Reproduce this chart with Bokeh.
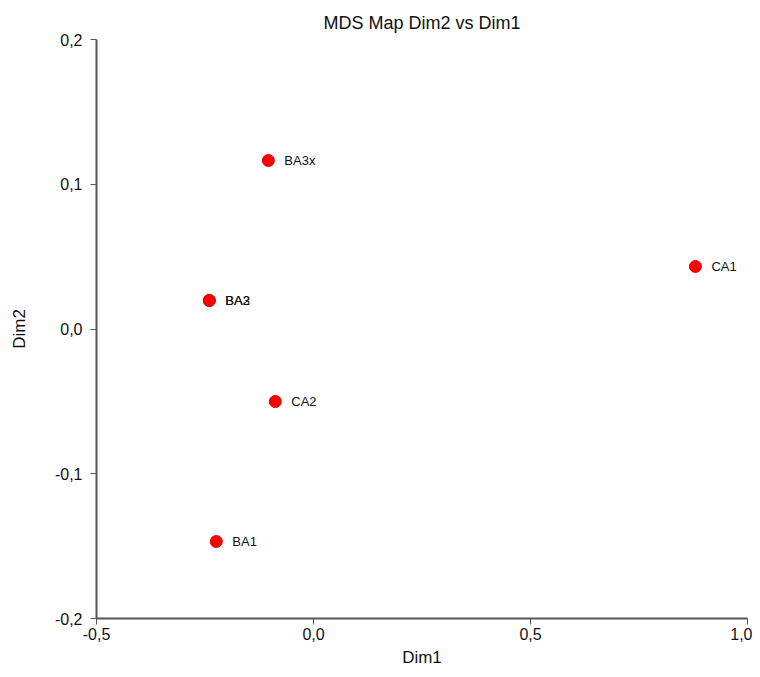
from bokeh.plotting import figure
from bokeh.models import ColumnDataSource, CustomJSTickFormatter, FixedTicker, Range1d
from bokeh.embed import file_html
from bokeh.resources import INLINE
from bokeh.core.properties import value

labels = ["BA3x", "BA2", "BA3", "CA1", "CA2", "BA1"]
dim1 = [-0.104, -0.240, -0.240, 0.880, -0.088, -0.224]
dim2 = [0.1164, 0.0197, 0.0197, 0.0432, -0.0501, -0.1468]
x_ticks = [-0.5, 0.0, 0.5, 1.0]
y_ticks = [-0.2, -0.1, 0.0, 0.1, 0.2]

src = ColumnDataSource(dict(x=dim1, y=dim2, label=labels))

p = figure(width=752, height=669, output_backend="svg", toolbar_location=None,
           x_range=Range1d(-0.5, 1.0), y_range=Range1d(-0.2, 0.2),
           min_border_left=96, min_border_right=5, min_border_top=39, min_border_bottom=51,
           title="MDS Map Dim2 vs Dim1")
p.outline_line_color = None
p.xgrid.visible = False
p.ygrid.visible = False
p.background_fill_color = "white"

p.title.align = "center"
p.title.text_font = "Liberation Sans"
p.title.text_font_style = "normal"
p.title.text_font_size = "18px"
p.title.text_color = "#111111"
p.title.standoff = 14

fmt = CustomJSTickFormatter(code="return tick.toFixed(1).replace('.', ',');")
for ax, ticks, lab in [(p.xaxis[0], x_ticks, "Dim1"), (p.yaxis[0], y_ticks, "Dim2")]:
    ax.ticker = FixedTicker(ticks=ticks)
    ax.formatter = fmt
    ax.axis_label = lab
    ax.axis_label_text_font = "Liberation Sans"
    ax.axis_label_text_font_style = "normal"
    ax.axis_label_text_font_size = "17px"
    ax.axis_label_text_color = "#111111"
    ax.major_label_text_font = "Liberation Sans"
    ax.major_label_text_font_size = "16px"
    ax.major_label_text_color = "#111111"
    ax.axis_line_color = "#555555"
    ax.axis_line_width = 2
    ax.major_tick_line_color = "#555555"
    ax.major_tick_out = 6
    ax.major_tick_in = 0
    ax.minor_tick_out = 0
    ax.minor_tick_in = 0

p.xaxis[0].major_label_standoff = 3
p.xaxis[0].axis_label_standoff = 5
p.yaxis[0].major_label_standoff = 8
p.yaxis[0].axis_label_standoff = 23

p.scatter("x", "y", source=src, size=12, color="#ff0000", line_color="#e00000")
p.text("x", "y", text="label", source=src, x_offset=16, y_offset=0,
       text_font=value("Liberation Sans"), text_font_size="13px",
       text_baseline="middle", text_color="#111111")

open("out.html", "w").write(file_html(p, INLINE))
